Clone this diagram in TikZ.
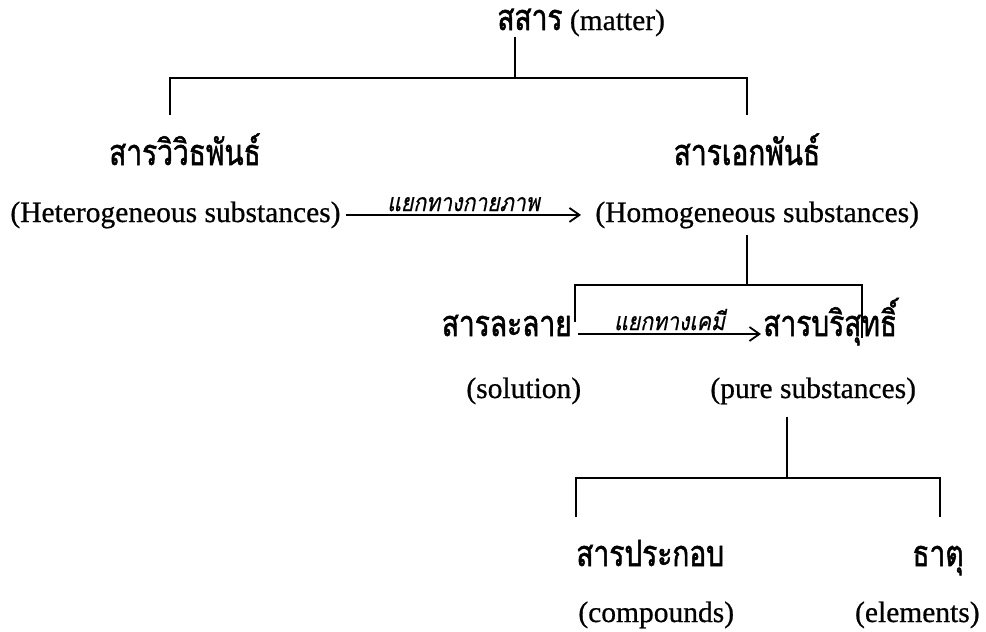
\documentclass[tikz,border=0pt]{standalone}
\usepackage{fontspec}
\setmainfont{Liberation Serif}[FakeBold=0.6]
\newfontfamily\thaifont[Script=Thai,FakeStretch=0.78,FakeBold=1.4]{Loma}
\newfontfamily\thaislant[Script=Thai,FakeStretch=0.85,FakeSlant=0.2,FakeBold=0.6]{Loma}
\usetikzlibrary{arrows.meta,positioning}

\begin{document}
\begin{tikzpicture}[x=0.5pt,y=-0.5pt,
  th/.style={inner sep=0pt,anchor=base,font=\thaifont\fontsize{18}{21}\selectfont},
  en/.style={inner sep=0pt,anchor=base,font=\fontsize{14.75}{18}\selectfont},
  how/.style={inner sep=1.5pt,font=\thaislant\fontsize{12.5}{14}\selectfont},
  branch/.style={line width=1pt},
  arrow/.style={line width=0.7pt,-{Straight Barb[length=5pt,width=7pt,line width=0.9pt]}}
]
\useasboundingbox (0,0) rectangle (986,632);

% top level
\node[en,anchor=base west] (matter) at (497,30) {{\thaifont\fontsize{18}{21}\selectfont สสาร} (matter)};
\node[th] (hetero) at (185,165) {สารวิวิธพันธ์};
\node[th] (homo) at (747,165) {สารเอกพันธ์};
\node[en,anchor=base west] (heteroen) at (10,222) {(Heterogeneous substances)};
\node[en,anchor=base west] (homoen) at (595,222) {(Homogeneous substances)};

% homogeneous
\node[th,anchor=base east] (solution) at (572,336) {สารละลาย};
\node[th,anchor=base west] (pure) at (763,336) {สารบริสุทธิ์};
\node[en,anchor=base west] (solutionen) at (466,398) {(solution)};
\node[en,anchor=base west] (pureen) at (710,398) {(pure substances)};

% pure substances
\node[th,anchor=base west] (compound) at (576,566) {สารประกอบ};
\node[th] (element) at (938,566) {ธาตุ};
\node[en,anchor=base west] (compounden) at (578,622) {(compounds)};
\node[en,anchor=base east] (elementen) at (980,622) {(elements)};

% brackets
\coordinate (j0) at (515,78);
\coordinate (l0) at (170,115);
\coordinate (r0) at (747,115);
\draw[branch] (matter.south -| j0) -- (j0);
\draw[branch] (l0) |- (j0) -| (r0);

\coordinate (j1) at (747,285);
\coordinate (l1) at (575,322);
\coordinate (r1) at (862,338);
\draw[branch] ([yshift=-3pt]homoen.south -| j1) -- (j1);
\draw[branch] (l1) |- (j1) -| (r1);

\coordinate (j2) at (787,478);
\coordinate (l2) at (576,517);
\coordinate (r2) at (940,517);
\draw[branch] ([yshift=-6pt]pureen.south -| j2) -- (j2);
\draw[branch] (l2) |- (j2) -| (r2);

% separations
\draw[arrow] ([xshift=2.5pt]heteroen.east) -- node[how,above]{แยกทางกายภาพ} ([xshift=-7pt]homoen.west);
\draw[arrow] ([xshift=3pt,yshift=1pt]solution.base east) -- node[how,above]{แยกทางเคมี} ([xshift=-1pt,yshift=1pt]pure.base west);
\end{tikzpicture}
\end{document}
